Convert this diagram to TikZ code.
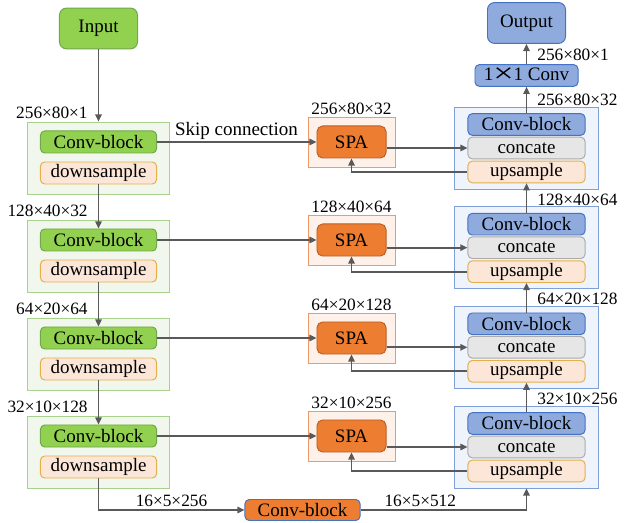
\documentclass[tikz,border=0pt]{standalone}
\usepackage{fontspec}
\usepackage{graphicx}
\setmainfont{Liberation Serif}
\usetikzlibrary{arrows.meta,positioning}
\definecolor{grnfill}{HTML}{92D050}
\definecolor{grndraw}{HTML}{6FA84A}
\definecolor{grnbg}{HTML}{F1F7EC}
\definecolor{grnline}{HTML}{A9D18E}
\definecolor{peach}{HTML}{FCE6D8}
\definecolor{gold}{HTML}{E3B04B}
\definecolor{orng}{HTML}{ED7D31}
\definecolor{orngdraw}{HTML}{B9602A}
\definecolor{orngbg}{HTML}{FDF1EA}
\definecolor{orngline}{HTML}{F09A6A}
\definecolor{bluefill}{HTML}{8FAADC}
\definecolor{bluedraw}{HTML}{4472C4}
\definecolor{bluebg}{HTML}{EEF3FC}
\definecolor{blueline}{HTML}{7F9FD8}
\definecolor{catfill}{HTML}{E6E6E6}
\definecolor{catdraw}{HTML}{ABABAB}
\definecolor{arrgray}{HTML}{595959}
\tikzset{blk/.style={rounded corners=3pt,line width=0.7pt,align=center,inner sep=0pt,font=\fontsize{13.5pt}{16pt}\selectfont},grnblk/.style={blk,fill=grnfill,draw=grndraw,minimum width=2.9cm,minimum height=0.55cm},pchblk/.style={blk,fill=peach,draw=gold,minimum width=2.9cm,minimum height=0.55cm},blueblk/.style={blk,fill=bluefill,draw=bluedraw,minimum width=2.925cm,minimum height=0.54cm},catblk/.style={blk,fill=catfill,draw=catdraw,minimum width=2.925cm,minimum height=0.54cm},spablk/.style={blk,rounded corners=4pt,fill=orng,draw=orngdraw,minimum width=1.725cm,minimum height=0.8cm},io/.style={blk,rounded corners=5pt,minimum width=1.95cm,minimum height=1.02cm},bgbox/.style={line width=0.6pt,inner sep=0pt},lbg/.style={bgbox,fill=grnbg,draw=grnline,minimum width=3.55cm,minimum height=1.8cm},sbg/.style={bgbox,fill=orngbg,draw=orngline,minimum width=2.175cm,minimum height=1.25cm},rbg/.style={bgbox,fill=bluebg,draw=blueline,minimum width=3.6cm,minimum height=2.05cm},dim/.style={font=\fontsize{12.3pt}{14pt}\selectfont,inner sep=1.5pt},lab/.style={font=\fontsize{13.5pt}{16pt}\selectfont,inner sep=1.5pt},arr/.style={-{Triangle[length=1.8mm,width=1.6mm]},line width=1.2pt,draw=arrgray}}
\begin{document}
\begin{tikzpicture}[x=0.025cm,y=-0.025cm]
\useasboundingbox (0,0) rectangle (624,523);
% encoder, SPA and decoder rows
\foreach \i/\lt/\rt/\la/\sa in {1/122/107/256×80×1/256×80×32,2/220/206.7/128×40×32/128×40×64,3/318/306.3/64×20×64/64×20×128,4/416/406/32×10×128/32×10×256}{
\node[lbg] (lo\i) at (98.5,{\lt+36}) {};
\node[grnblk] (lc\i) at (98.5,{\lt+20}) {Conv-block};
\node[pchblk] (ds\i) at (98.5,{\lt+51}) {downsample};
\node[dim,anchor=east] (ll\i) at (90,{\lt-9}) {\la};
\node[sbg] (so\i) at (351.5,{\lt+20}) {};
\node[spablk] (sp\i) at (351.5,{\lt+20}) {SPA};
\node[dim,anchor=south] (sl\i) at (so\i.north) {\sa};
\node[rbg] (ro\i) at (526.5,{\rt+41}) {};
\node[blueblk] (rc\i) at (526.5,{\rt+17.5}) {Conv-block};
\node[catblk] (ct\i) at (526.5,{\rt+41}) {concate};
\node[pchblk,minimum width=2.925cm,minimum height=0.54cm] (up\i) at (526.5,{\rt+65}) {upsample};
\node[dim,anchor=west] (rl\i) at (535,{\rt-7}) {\sa};
\draw[arr] (lc\i.east) -- (sp\i.west);
\draw[arr] (sp\i.east |- ct\i.west) -- (ct\i.west);
\draw[arr] (up\i.west) -| (sp\i.south);
}
\node[io,fill=grnfill,draw=grndraw] (in) at (98.5,28.5) {Input};
\node[io,fill=bluefill,draw=bluedraw] (out) at (526.5,23) {Output};
\node[blueblk,minimum width=2.575cm] (cv11) at (526.5,75.5) {1\raisebox{-.12em}{\scalebox{1.9}[1.45]{×}}1 Conv};
\node[blk,fill=orng,draw=bluedraw,minimum width=2.875cm,minimum height=0.525cm] (bot) at (302.5,510) {Conv-block};
\node[lab] (skip) at (236.5,131) {Skip connection};
\node[dim,anchor=west] (ol) at (535,55) {256×80×1};
\draw[arr] (in.south) -- (lo1.north);
\foreach \i/\j in {2/1,3/2,4/3}{
\draw[arr] (ds\j.south) -- (lc\i.north);
\draw[arr] (rc\i.north) -- (up\j.south);
}
\draw[arr] (rc1.north) -- (cv11.south);
\draw[arr] (cv11.north) -- (out.south);
\draw[arr] (ds4.south) |- node[dim,above,pos=.75]{16×5×256} (bot.west);
\draw[arr] (bot.east) -| node[dim,above,pos=.18]{16×5×512} (ro4.south);
\end{tikzpicture}
\end{document}
